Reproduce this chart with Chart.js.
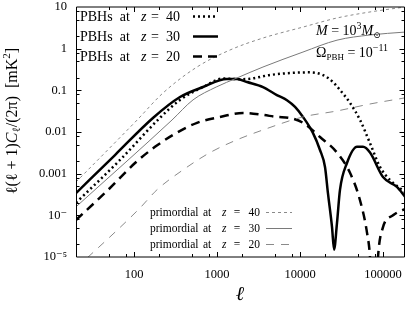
<!DOCTYPE html>
<html><head><meta charset="utf-8">
<script src="https://cdn.jsdelivr.net/npm/chart.js@4/dist/chart.umd.min.js"></script>
<style>html,body{margin:0;padding:0;background:#fff}#wrap{width:408px;height:309px}</style>
</head><body><div id="wrap"><canvas id="c" width="408" height="309"></canvas></div>
<script>
// ---- data ----
const xTickValues = [100, 1000, 10000, 100000];
const xTickLabels = ['100', '1000', '10000', '100000'];
const yTickValues = [10, 1, 0.1, 0.01, 0.001, 1e-4, 1e-5];
const yTickLabels = ['10', '1', '0.1', '0.01', '0.001', '10\u207B', '10\u207B\u2075'];

const pbh40Ell = [20, 67.8, 206, 358, 678, 1180, 1890, 2500, 4340, 7570, 13200, 18900, 25000, 30300, 40000, 52800, 69700, 92000, 121000, 160000, 184000];
const pbh40Val = [2.0e-4, 0.00213, 0.022, 0.059, 0.12, 0.192, 0.185, 0.19, 0.233, 0.26, 0.27, 0.233, 0.158, 0.102, 0.050, 0.0195, 0.0054, 0.00145, 7.1e-4, 4.5e-4, 3.6e-4];

const pbh30Ell = [20, 59, 169, 358, 678, 1318, 1740, 2300, 3580, 5260, 6960, 8710, 10860, 14300, 17400, 20000, 21700, 24300, 25700, 27900, 30300, 36800, 48600, 57400, 69700, 100000, 147000, 184000];
const pbh30Val = [3.4e-4, 0.0028, 0.0217, 0.069, 0.12, 0.187, 0.187, 0.158, 0.12, 0.077, 0.058, 0.04, 0.023, 0.0095, 0.0037, 0.00145, 3.4e-4, 5.2e-5, 1.5e-5, 6.6e-5, 4.1e-4, 0.0018, 0.0044, 0.0044, 0.0032, 8.3e-4, 4.8e-4, 2.8e-4];

const pbh20Ell = [20, 48.6, 102.8, 179, 295, 574, 1086, 2056, 3580, 5260, 7570, 10860, 17400, 27900, 40000, 52800, 64200, 69700, 77800, 87000, 100000, 132000, 174000, 184000];
const pbh20Val = [7.7e-5, 4.06e-4, 0.0018, 0.0044, 0.0085, 0.0166, 0.023, 0.0286, 0.0257, 0.023, 0.0217, 0.0166, 0.0076, 0.0032, 0.00105, 2.3e-4, 3.8e-5, 1.0e-5, 1e-7, 1.0e-5, 5.2e-5, 1.0e-4, 1.35e-4, 1.4e-4];

const prim40Ell = [20, 109, 223, 574, 1436, 3580, 10860, 27900, 69700, 184000];
const prim40Val = [6.3e-4, 0.0194, 0.086, 0.363, 0.93, 1.8, 3.3, 5.45, 7.6, 10];

const prim30Ell = [20, 287, 514, 977, 1740, 3580, 10860, 27900, 69700, 184000];
const prim30Val = [1.6e-4, 0.0194, 0.059, 0.12, 0.198, 0.363, 0.83, 1.6, 2.13, 2.5];

const prim20Ell = [20, 28, 118, 189, 389, 822, 1740, 3580, 10860, 27900, 69700, 184000];
const prim20Val = [5.5e-6, 1e-5, 1.5e-4, 4.1e-4, 0.00123, 0.0032, 0.0065, 0.0112, 0.023, 0.032, 0.047, 0.066];

const minorMult = [2, 5, 8];

// ---- helpers ----
const pts = (xs, ys) => xs.map((x, i) => ({x: x, y: ys[i]}));
const SERIF = '"Liberation Serif", "DejaVu Serif", serif';

function ds(label, xs, ys, color, width, dash) {
  return {label, data: pts(xs, ys), borderColor: color, borderWidth: width, borderDash: dash,
    pointRadius: 0, fill: false, cubicInterpolationMode: 'monotone', tension: 0.4};
}

const styles = {
  p40: ['#8a8a8a', 1, [3, 3]],
  p30: ['#7a7a7a', 1, []],
  p20: ['#8a8a8a', 1, [8, 7]],
  b40: ['#000', 2.5, [2, 3]],
  b30: ['#000', 2.5, []],
  b20: ['#000', 2.5, [9, 6]]
};

function setFont(ctx, p) { ctx.font = (p.it ? 'italic ' : '') + p.s + 'px ' + SERIF; }
function rich(ctx, x, y, parts, align) {
  let w = 0;
  for (const p of parts) { setFont(ctx, p); w += ctx.measureText(p.t).width; }
  let cx = align === 'right' ? x - w : align === 'center' ? x - w / 2 : x;
  for (const p of parts) {
    setFont(ctx, p);
    ctx.fillText(p.t, cx, y + (p.dy || 0));
    cx += ctx.measureText(p.t).width;
  }
}

function sample(ctx, x0, x1, y, st) {
  ctx.save();
  ctx.strokeStyle = st[0]; ctx.lineWidth = st[1]; ctx.setLineDash(st[2]);
  ctx.beginPath(); ctx.moveTo(x0, y); ctx.lineTo(x1, y); ctx.stroke();
  ctx.restore();
}

const framePlugin = {
  id: 'frame',
  afterDraw(chart) {
    const ctx = chart.ctx, a = chart.chartArea, xs = chart.scales.x, ys = chart.scales.y;
    ctx.save();
    ctx.strokeStyle = '#000'; ctx.lineWidth = 1; ctx.setLineDash([]);
    const L = a.left + 0.5, R = a.right - 0.5, T = a.top, B = a.bottom;
    ctx.beginPath();
    ctx.moveTo(L, T); ctx.lineTo(R, T); ctx.moveTo(L, B); ctx.lineTo(R, B);
    ctx.moveTo(L, T); ctx.lineTo(L, B); ctx.moveTo(R, T); ctx.lineTo(R, B);
    ctx.stroke();
    const line = (x0, y0, x1, y1) => { ctx.beginPath(); ctx.moveTo(x0, y0); ctx.lineTo(x1, y1); ctx.stroke(); };
    for (let e = 1; e <= 5; e++) {
      const base = Math.pow(10, e);
      const vals = [[base, 5]].concat(minorMult.map(m => [m * base, 3]));
      for (const [v, len] of vals) {
        const px = Math.round(xs.getPixelForValue(v)) + 0.5;
        if (px <= a.left + 1 || px >= a.right - 1) continue;
        line(px, B, px, B - len); line(px, T, px, T + len);
      }
    }
    for (let e = -5; e <= 1; e++) {
      const base = Math.pow(10, e);
      const vals = [[base, 5]].concat(minorMult.map(m => [m * base, 3]));
      for (const [v, len] of vals) {
        const py = Math.round(ys.getPixelForValue(v)) + 0.5;
        if (py <= a.top + 1 || py >= a.bottom - 1) continue;
        line(L, py, L + len, py); line(R, py, R - len, py);
      }
    }
    ctx.fillStyle = '#000';
    ctx.textBaseline = 'alphabetic';
    // top-left legend
    const tl = [['40', 'b40', 21], ['30', 'b30', 41], ['20', 'b20', 61]];
    for (const [z, k, by] of tl) {
      rich(ctx, 80, by, [{t: 'PBHs  at', s: 14}], 'left');
      rich(ctx, 141, by, [{t: 'z', s: 14, it: true}], 'left');
      rich(ctx, 155, by, [{t: '=', s: 14}], 'center');
      rich(ctx, 180, by, [{t: z, s: 14}], 'right');
      sample(ctx, 193, 218, by - 4.5, styles[k]);
    }
    // bottom-right legend
    const br = [['40', 'p40', 216], ['30', 'p30', 232], ['20', 'p20', 248]];
    for (const [z, k, by] of br) {
      rich(ctx, 150, by, [{t: 'primordial', s: 11.5}], 'left');
      rich(ctx, 203, by, [{t: 'at', s: 11.5}], 'left');
      rich(ctx, 222, by, [{t: 'z', s: 11.5, it: true}], 'left');
      rich(ctx, 237, by, [{t: '=', s: 11.5}], 'center');
      rich(ctx, 260, by, [{t: z, s: 11.5}], 'right');
      sample(ctx, 266, 292, by - 3.5, styles[k]);
    }
    // annotations
    rich(ctx, 316, 35, [{t: 'M', s: 14, it: true}, {t: ' = 10', s: 14}, {t: '3', s: 10, dy: -6}, {t: 'M', s: 14, it: true}, {t: '\u2299', s: 9, dy: 3}], 'left');
    rich(ctx, 316, 57, [{t: '\u03A9', s: 14}, {t: 'PBH', s: 9, dy: 3}, {t: ' = 10', s: 14}, {t: '\u221211', s: 10, dy: -6}], 'left');
    // axis titles
    rich(ctx, 240, 300, [{t: '\u2113', s: 20, it: true}], 'center');
    ctx.save();
    ctx.translate(17, 121);
    ctx.rotate(-Math.PI / 2);
    rich(ctx, 0, 0, [{t: '\u2113(\u2113 + 1)', s: 16}, {t: 'C', s: 16, it: true}, {t: '\u2113', s: 11, dy: 3}, {t: '/(2\u03C0)  [mK', s: 16}, {t: '2', s: 11, dy: -7}, {t: ']', s: 16}], 'center');
    ctx.restore();
    ctx.restore();
  }
};

new Chart(document.getElementById('c'), {
  type: 'line',
  data: {
    datasets: [
      ds('primordial at z = 40', prim40Ell, prim40Val, ...styles.p40),
      ds('primordial at z = 30', prim30Ell, prim30Val, ...styles.p30),
      ds('primordial at z = 20', prim20Ell, prim20Val, ...styles.p20),
      ds('PBHs at z = 40', pbh40Ell, pbh40Val, ...styles.b40),
      ds('PBHs at z = 30', pbh30Ell, pbh30Val, ...styles.b30),
      ds('PBHs at z = 20', pbh20Ell, pbh20Val, ...styles.b20)
    ]
  },
  options: {
    responsive: false, animation: false, devicePixelRatio: 1,
    layout: {padding: {left: 0, right: 3, top: 7, bottom: 0}},
    plugins: {legend: {display: false}, tooltip: {enabled: false}},
    scales: {
      x: {
        type: 'logarithmic', min: 20, max: 184000,
        grid: {display: false, drawTicks: false}, border: {display: false},
        afterBuildTicks(s) { s.ticks = xTickValues.map(v => ({value: v})); },
        ticks: {autoSkip: false, maxRotation: 0, padding: 10, color: '#000',
          font: {family: SERIF, size: 12.5},
          callback: (v) => xTickLabels[xTickValues.indexOf(v)]},
        afterFit(s) { s.height = 52; s.paddingLeft = 0; s.paddingRight = 0; }
      },
      y: {
        type: 'logarithmic', min: 1e-5, max: 10,
        grid: {display: false, drawTicks: false}, border: {display: false},
        afterBuildTicks(s) { s.ticks = yTickValues.map(v => ({value: v})); },
        ticks: {autoSkip: false, padding: 9, color: '#000',
          font: {family: SERIF, size: 12.5},
          callback: (v) => yTickLabels[yTickValues.findIndex(t => Math.abs(t - v) / t < 1e-6)]},
        afterFit(s) { s.width = 76; s.paddingTop = 0; s.paddingBottom = 0; }
      }
    }
  },
  plugins: [framePlugin]
});
</script>
</body></html>
